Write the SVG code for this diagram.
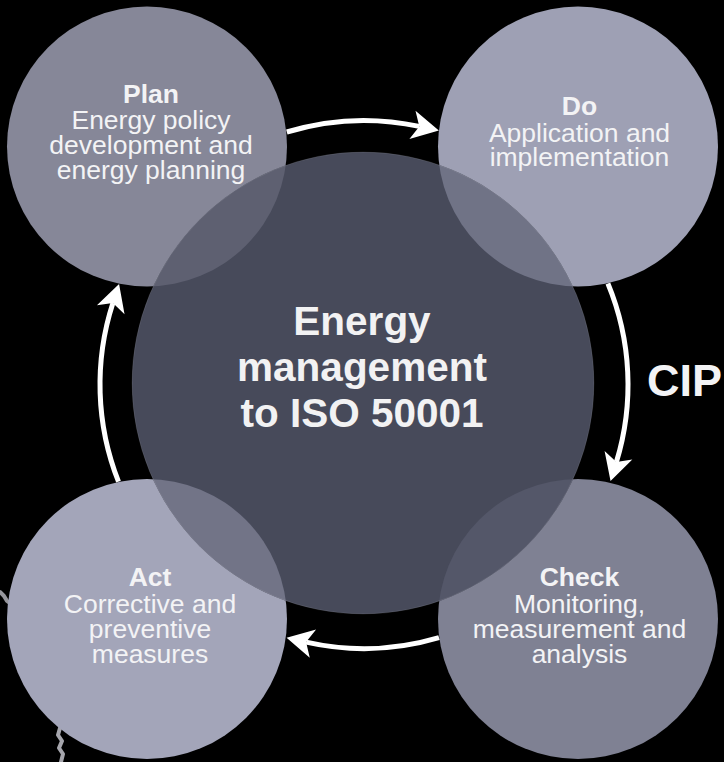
<svg xmlns="http://www.w3.org/2000/svg" width="724" height="762" viewBox="0 0 724 762">
  <defs>
    <style>
      .t { font-family: "Liberation Sans", Arial, Helvetica, sans-serif; fill: #f3f3f5; text-anchor: middle; }
      .title { font-size: 26.5px; font-weight: bold; }
      .body { font-size: 26.5px; }
      .main { font-size: 40.5px; font-weight: bold; fill: #f2f2f3; }
      .cip { font-family: "Liberation Sans", Arial, Helvetica, sans-serif; font-size: 45px; font-weight: bold; fill: #f3f3f5; }
      .conn { fill: none; stroke: #ffffff; stroke-width: 5; }
    </style>
    <clipPath id="centralClip">
      <circle cx="363" cy="383" r="231"/>
    </clipPath>
    <marker id="arrow" markerUnits="userSpaceOnUse" markerWidth="60" markerHeight="60" refX="0" refY="0" orient="auto" overflow="visible">
      <path d="M20,0 L-7,-14.5 L0,0 L-7,14.5 Z" fill="#ffffff"/>
    </marker>
  </defs>

  <rect x="0" y="0" width="724" height="762" fill="#000000"/>

  <!-- faint background texture -->
  <g id="background-texture" fill="none" stroke-linecap="round" stroke-linejoin="round">
    <path d="M0,592 L4,596 L7,601 L11,604 L14,609" stroke="#c8c8d0" stroke-width="4" opacity="0.75"/>
    <path d="M60,728 L58,735 L62,741 L59,748 L63,754 L61,762" stroke="#d0d0d8" stroke-width="4" opacity="0.8"/>
  </g>

  <!-- nodes -->
  <g id="node-plan">
    <circle cx="147" cy="146.5" r="140" fill="#868798"/>
  </g>
  <g id="node-do">
    <circle cx="578" cy="146.5" r="140" fill="#9ea0b4"/>
  </g>
  <g id="node-act">
    <circle cx="147" cy="619" r="140" fill="#a3a5b9"/>
  </g>
  <g id="node-check">
    <circle cx="578" cy="619" r="140" fill="#7f8193"/>
  </g>
  <g id="node-central">
    <circle cx="363" cy="383" r="231" fill="#474a5a"/>
    <g clip-path="url(#centralClip)">
      <circle cx="147" cy="146.5" r="140" fill="#5e6071"/>
      <circle cx="578" cy="146.5" r="140" fill="#707386"/>
      <circle cx="147" cy="619" r="140" fill="#727487"/>
      <circle cx="578" cy="619" r="140" fill="#545769"/>
    </g>
    <circle cx="363" cy="383" r="231" fill="none" stroke="#ffffff" stroke-opacity="0.12" stroke-width="0.8"/>
    <text class="t main" x="362" y="335">Energy</text>
    <text class="t main" x="362" y="381">management</text>
    <text class="t main" x="362" y="427">to ISO 50001</text>
  </g>

  <g id="label-plan">
    <text class="t title" x="151" y="103">Plan</text>
    <text class="t body" x="151" y="129">Energy policy</text>
    <text class="t body" x="151" y="154">development and</text>
    <text class="t body" x="151" y="179">energy planning</text>
  </g>
  <g id="label-do">
    <text class="t title" x="579.5" y="115">Do</text>
    <text class="t body" x="579.5" y="141.5">Application and</text>
    <text class="t body" x="579.5" y="166">implementation</text>
  </g>
  <g id="label-act">
    <text class="t title" x="150" y="586">Act</text>
    <text class="t body" x="150" y="613">Corrective and</text>
    <text class="t body" x="150" y="638">preventive</text>
    <text class="t body" x="150" y="663">measures</text>
  </g>
  <g id="label-check">
    <text class="t title" x="579.5" y="586">Check</text>
    <text class="t body" x="579.5" y="612.5">Monitoring,</text>
    <text class="t body" x="579.5" y="638">measurement and</text>
    <text class="t body" x="579.5" y="663">analysis</text>
  </g>

  <!-- connectors -->
  <g id="connectors">
    <path class="conn" d="M286.8,132.0 A264,264 0 0 1 419.3,126.4" marker-end="url(#arrow)"/>
    <path class="conn" d="M607.9,283.5 A264,264 0 0 1 616.4,462.0" marker-end="url(#arrow)"/>
    <path class="conn" d="M439.0,637.6 A264,264 0 0 1 306.1,642.1" marker-end="url(#arrow)"/>
    <path class="conn" d="M118.5,481.7 A264,264 0 0 1 112.9,303.1" marker-end="url(#arrow)"/>
  </g>

  <g id="label-cip">
    <text class="cip" x="647" y="396">CIP</text>
  </g>
</svg>
